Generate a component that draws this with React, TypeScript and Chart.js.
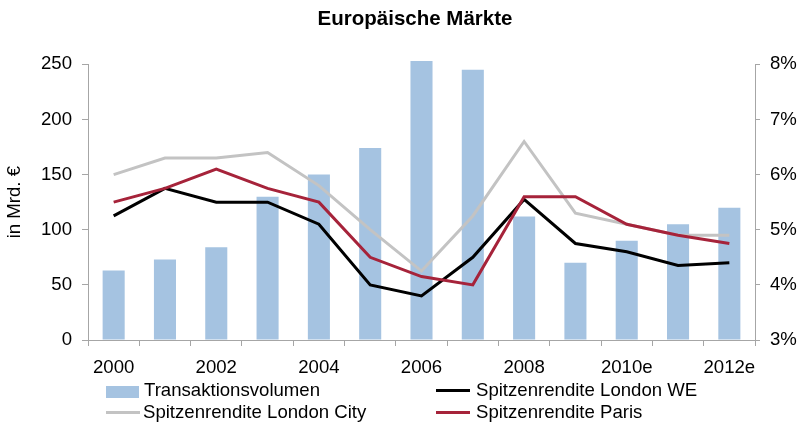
import React, { useEffect, useRef } from 'react';
import { Chart, registerables } from 'chart.js';

Chart.register(...registerables);

const categories = ['2000', '2001', '2002', '2003', '2004', '2005', '2006', '2007', '2008', '2009', '2010e', '2011e', '2012e'];
const transaktionsvolumen = [63, 73, 84, 130, 150, 174, 253, 245, 112, 70, 90, 105, 120];
const londonWE = [5.25, 5.75, 5.5, 5.5, 5.1, 4.0, 3.8, 4.5, 5.55, 4.75, 4.6, 4.35, 4.4];
const londonCity = [6.0, 6.3, 6.3, 6.4, 5.8, 5.0, 4.25, 5.25, 6.6, 5.3, 5.1, 4.9, 4.9];
const paris = [5.5, 5.75, 6.1, 5.75, 5.5, 4.5, 4.15, 4.0, 5.6, 5.6, 5.1, 4.9, 4.75];
const leftAxisRange = [0, 250, 50];
const rightAxisRange = [3, 8, 1];

const seriesNames = ['Transaktionsvolumen', 'Spitzenrendite London WE', 'Spitzenrendite London City', 'Spitzenrendite Paris'];
const colors = { bar: '#A5C3E1', we: '#000000', city: '#C3C3C3', paris: '#A6233A', axis: '#A6A6A6' };
const FONT = '"Liberation Sans", Arial, sans-serif';
const FS = 18.6;

const titleShift = {
  id: 'titleShift',
  afterLayout(chart: any) {
    if (chart.titleBlock) {
      chart.titleBlock.left = 21;
    }
  },
};

export default function App() {
  const canvasRef = useRef<HTMLCanvasElement | null>(null);

  useEffect(() => {
    document.body.style.margin = '0';
    const canvas = canvasRef.current;
    if (!canvas) return;
    const chart = new Chart(canvas, {
      type: 'bar',
      data: {
        labels: categories,
        datasets: [
          {
            type: 'line',
            label: seriesNames[3],
            data: paris,
            yAxisID: 'y1',
            borderColor: colors.paris,
            backgroundColor: colors.paris,
            borderWidth: 3,
            pointRadius: 0,
            tension: 0,
            order: 1,
          } as any,
          {
            type: 'line',
            label: seriesNames[2],
            data: londonCity,
            yAxisID: 'y1',
            borderColor: colors.city,
            backgroundColor: colors.city,
            borderWidth: 3,
            pointRadius: 0,
            tension: 0,
            order: 2,
          },
          {
            type: 'line',
            label: seriesNames[1],
            data: londonWE,
            yAxisID: 'y1',
            borderColor: colors.we,
            backgroundColor: colors.we,
            borderWidth: 3,
            pointRadius: 0,
            tension: 0,
            order: 3,
          },
          {
            type: 'bar',
            label: seriesNames[0],
            data: transaktionsvolumen,
            yAxisID: 'y',
            backgroundColor: colors.bar,
            borderWidth: 0,
            barPercentage: 0.43,
            categoryPercentage: 1.0,
            clip: false,
            order: 10,
          },
        ],
      },
      options: {
        responsive: false,
        animation: false,
        events: [],
        layout: { padding: 0 },
        plugins: {
          legend: { display: false },
          tooltip: { enabled: false },
          title: {
            display: true,
            text: 'Europäische Märkte',
            color: '#000',
            font: { family: FONT, size: 20.5, weight: 'bold' },
            padding: { top: 7, bottom: 32.7 },
          },
        },
        scales: {
          x: {
            offset: true,
            grid: {
              offset: true,
              drawOnChartArea: false,
              drawTicks: true,
              tickLength: 6,
              color: colors.axis,
            },
            border: { color: colors.axis, width: 1 },
            ticks: {
              autoSkip: false,
              maxRotation: 0,
              minRotation: 0,
              color: '#000',
              font: { family: FONT, size: FS },
              padding: 11,
              callback: (_v: any, i: number) => (i % 2 === 0 ? categories[i] : ''),
            },
            afterFit: (scale: any) => {
              scale.height = 90;
            },
          },
          y: {
            position: 'left',
            min: leftAxisRange[0],
            max: leftAxisRange[1],
            grid: { drawOnChartArea: false, tickLength: 6, color: colors.axis },
            border: { color: colors.axis, width: 1 },
            ticks: {
              stepSize: leftAxisRange[2],
              color: '#000',
              font: { family: FONT, size: FS },
              padding: 10,
            },
            title: {
              display: true,
              text: 'in Mrd. €',
              color: '#000',
              font: { family: FONT, size: FS },
              padding: { top: 4, bottom: 0 },
            },
            afterFit: (scale: any) => {
              scale.width = 88;
            },
          },
          y1: {
            position: 'right',
            min: rightAxisRange[0],
            max: rightAxisRange[1],
            grid: { drawOnChartArea: false, tickLength: 5, color: colors.axis },
            border: { color: colors.axis, width: 1 },
            ticks: {
              stepSize: rightAxisRange[2],
              color: '#000',
              font: { family: FONT, size: FS },
              padding: 10,
              callback: (v: any) => `${v}%`,
            },
            afterFit: (scale: any) => {
              scale.width = 54;
            },
          },
        },
      },
      plugins: [titleShift],
    });
    return () => chart.destroy();
  }, []);

  const textStyle: React.CSSProperties = {
    position: 'absolute',
    fontFamily: FONT,
    fontSize: FS + 'px',
    lineHeight: '22px',
    color: '#000',
    whiteSpace: 'nowrap',
  };

  return (
    <div style={{ position: 'relative', width: 809, height: 430, background: '#fff' }}>
      <canvas ref={canvasRef} width={809} height={430} style={{ display: 'block' }} />
      <div style={{ position: 'absolute', left: 106, top: 386, width: 33, height: 12, background: colors.bar }} />
      <div style={{ ...textStyle, left: 144, top: 379 }}>{seriesNames[0]}</div>
      <div style={{ position: 'absolute', left: 436, top: 389, width: 34, height: 3, background: colors.we }} />
      <div style={{ ...textStyle, left: 476, top: 379 }}>{seriesNames[1]}</div>
      <div style={{ position: 'absolute', left: 106, top: 411, width: 34, height: 3, background: colors.city }} />
      <div style={{ ...textStyle, left: 143, top: 401 }}>{seriesNames[2]}</div>
      <div style={{ position: 'absolute', left: 436, top: 411, width: 34, height: 3, background: colors.paris }} />
      <div style={{ ...textStyle, left: 476, top: 401 }}>{seriesNames[3]}</div>
    </div>
  );
}
